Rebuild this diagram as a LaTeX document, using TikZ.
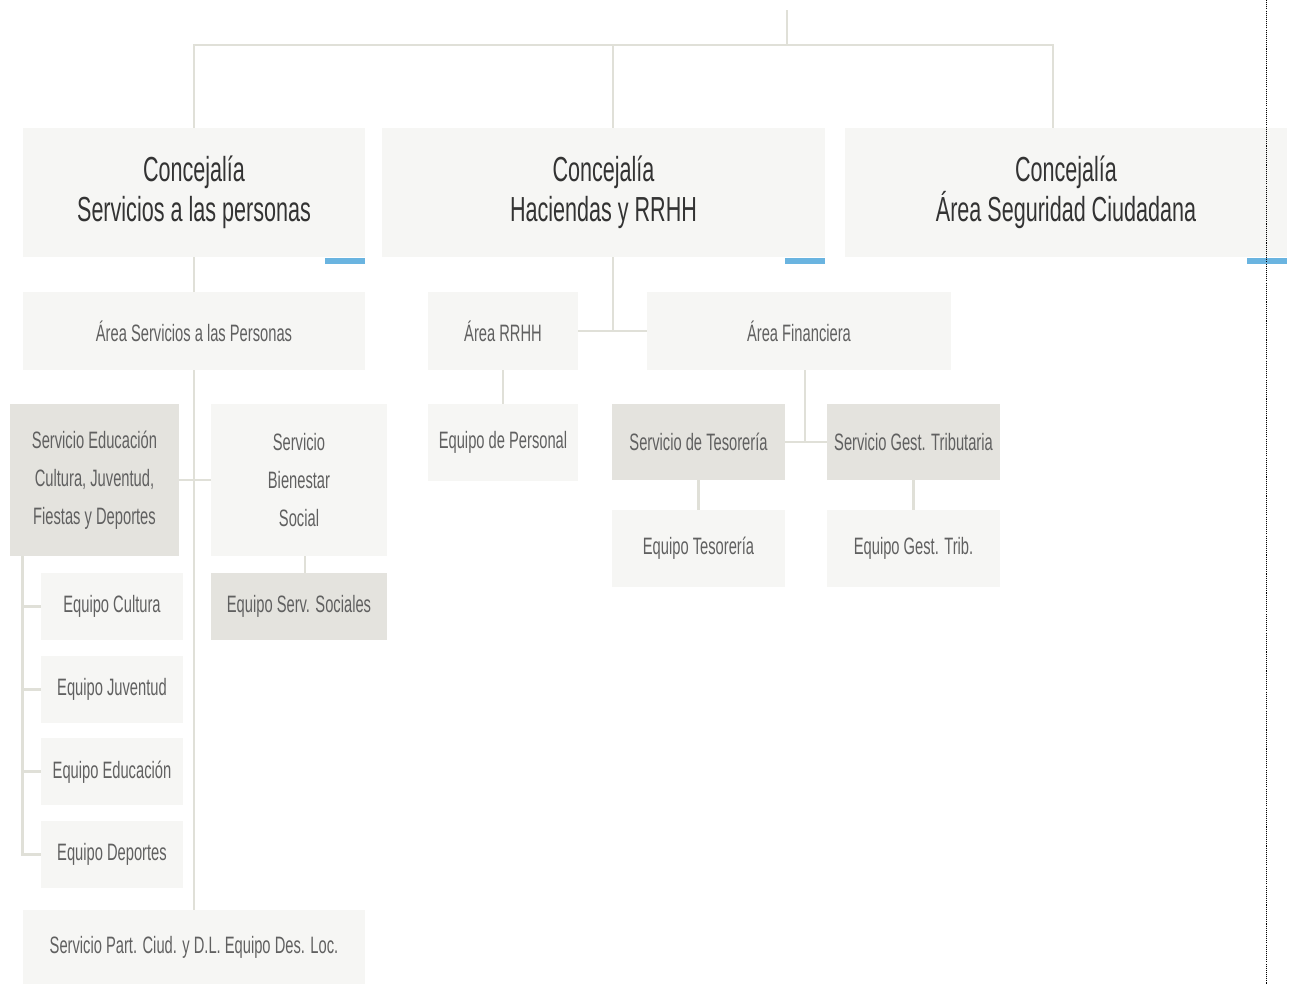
\documentclass[tikz,border=0pt]{standalone}
\usepackage{fontspec}
\setmainfont[FakeStretch=0.62]{Liberation Sans}
\usepackage{tikz}
\usetikzlibrary{positioning}
\definecolor{boxlight}{HTML}{F6F6F4}
\definecolor{boxdark}{HTML}{E4E3DE}
\definecolor{linkgray}{HTML}{E0E0D8}
\definecolor{barblue}{HTML}{6AB4E0}
\definecolor{txtdark}{HTML}{333333}
\definecolor{txtgray}{HTML}{606060}
\tikzstyle{council} = [rectangle, fill=boxlight, inner sep=0pt, align=center, text=txtdark, font=\fontsize{19.8}{22.7}\selectfont, minimum height=2.58cm]
\tikzstyle{lightbox} = [rectangle, fill=boxlight, inner sep=0pt, align=center, text=txtgray, font=\fontsize{13.5}{21.5}\selectfont]
\tikzstyle{darkbox} = [lightbox, fill=boxdark]
\tikzstyle{bluebar} = [rectangle, fill=barblue, inner sep=0pt, minimum width=0.8cm, minimum height=0.12cm, anchor=north east]
\tikzstyle{link} = [draw=linkgray, line width=1.6pt]

\begin{document}
\begin{tikzpicture}[x=0.02cm, y=-0.02cm]
    \useasboundingbox (0,0) rectangle (1294,984);
    %concejalias
    \node (c1) [council, minimum width=6.84cm] at (194,192.5) {Concejalía\\Servicios a las personas};
    \node (c2) [council, minimum width=8.86cm] at (603.5,192.5) {Concejalía\\Haciendas y RRHH};
    \node (c3) [council, minimum width=8.84cm] at (1066,192.5) {Concejalía\\Área Seguridad Ciudadana};
    \node (b1) [bluebar] at (c1.south east) {};
    \node (b2) [bluebar] at (c2.south east) {};
    \node (b3) [bluebar] at (c3.south east) {};

    %areas
    \node (aSP) [lightbox, minimum width=6.84cm, minimum height=1.56cm] at (194,331) {Área Servicios a las Personas};
    \node (aRRHH) [lightbox, minimum width=3cm, minimum height=1.56cm] at (503,331) {Área RRHH};
    \node (aFin) [lightbox, minimum width=6.08cm, minimum height=1.56cm] at (799,331) {Área Financiera};

    %servicios a las personas
    \node (sEdu) [darkbox, minimum width=3.38cm, minimum height=3.04cm] at (94.5,480) {Servicio Educación\\Cultura, Juventud,\\Fiestas y Deportes};
    \node (sBien) [lightbox, minimum width=3.52cm, minimum height=3.04cm] at (299,480) {Servicio\\Bienestar\\Social};
    \node (eSS) [darkbox, minimum width=3.52cm, minimum height=1.34cm] at (299,606.5) {Equipo Serv. Sociales};
    \node (eCul) [lightbox, minimum width=2.84cm, minimum height=1.34cm] at (112,606.5) {Equipo Cultura};
    \node (eJuv) [lightbox, minimum width=2.84cm, minimum height=1.34cm, below=0.3cm of eCul] {Equipo Juventud};
    \node (eEdu) [lightbox, minimum width=2.84cm, minimum height=1.34cm, below=0.3cm of eJuv] {Equipo Educación};
    \node (eDep) [lightbox, minimum width=2.84cm, minimum height=1.34cm, below=0.3cm of eEdu] {Equipo Deportes};
    \node (sPart) [lightbox, minimum width=6.84cm, minimum height=1.48cm] at (194,947) {Servicio Part. Ciud. y D.L. Equipo Des. Loc.};

    %haciendas
    \node (ePer) [lightbox, minimum width=3cm, minimum height=1.54cm] at (503,442.5) {Equipo de Personal};
    \node (sTes) [darkbox, minimum width=3.46cm, minimum height=1.52cm] at (698.5,442) {Servicio de Tesorería};
    \node (sGT) [darkbox, minimum width=3.46cm, minimum height=1.52cm] at (913.5,442) {Servicio Gest. Tributaria};
    \node (eTes) [lightbox, minimum width=3.46cm, minimum height=1.54cm] at (698.5,548.5) {Equipo Tesorería};
    \node (eGT) [lightbox, minimum width=3.46cm, minimum height=1.54cm] at (913.5,548.5) {Equipo Gest. Trib.};

    %puntos de union
    \coordinate (root) at (787,10);
    \coordinate (bus) at (787,45);
    \coordinate (j2) at (613,128);
    \coordinate (j3) at (1053,128);

    %conectores
    \draw [link] (root) -- (bus);
    \draw [link] (c1.north) |- (bus) -| (j3);
    \draw [link] (bus) -| (j2);
    \draw [link] (c1.south) -- (aSP.north);
    \draw [link] (aSP.south) -- (sPart.north);
    \draw [link] (sEdu.east) -- (sBien.west);
    \draw [link] ([xshift=0.12cm]sBien.south) -- ([xshift=0.12cm]eSS.north);
    \foreach \e in {eCul, eJuv, eEdu, eDep}
        \draw [link] ([xshift=0.26cm]sEdu.south west) |- (\e.west);
    \draw [link] ([xshift=0.19cm]c2.south) -- ([xshift=0.19cm]c2.south |- aRRHH.east);
    \draw [link] (aRRHH.east) -- (aFin.west);
    \draw [link] (aRRHH.south) -- (ePer.north);
    \draw [link] ([xshift=0.12cm]aFin.south) -- ([xshift=0.12cm]aFin.south |- sTes.east);
    \draw [link] (sTes.east) -- (sGT.west);
    \draw [link] (sTes.south) -- (eTes.north);
    \draw [link] (sGT.south) -- (eGT.north);

    %borde punteado
    \draw [black, line width=0.5pt, dash pattern=on 0.6pt off 0.6pt] (1266,0) -- (1266,984);
\end{tikzpicture}
\end{document}
